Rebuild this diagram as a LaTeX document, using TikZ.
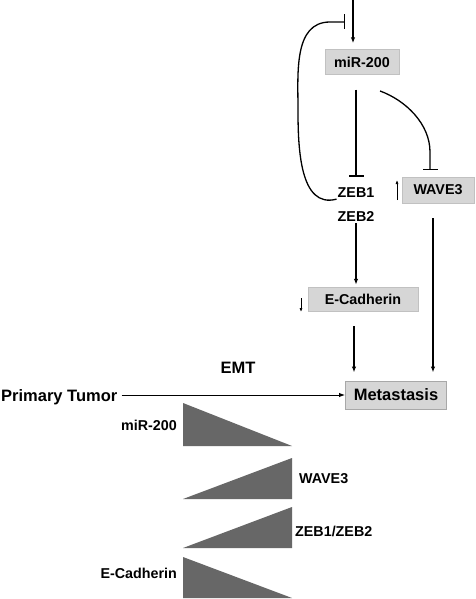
\documentclass[tikz,border=0pt]{standalone}
\usepackage{fontspec}
\setmainfont{Liberation Sans}
\definecolor{boxgray}{HTML}{D6D6D6}
\definecolor{boxline}{HTML}{A8A8A8}
\definecolor{wedge}{HTML}{676767}
\usetikzlibrary{positioning, arrows.meta, calc}

\begin{document}
\begin{tikzpicture}[x=1pt, y=-1pt,
    every node/.style={font=\fontsize{14.3}{16}\selectfont\bfseries, inner sep=1pt},
    genebox/.style={fill=boxgray, draw=boxgray!90!black, inner sep=0pt},
    bigfont/.style={font=\fontsize{16.5}{19}\selectfont\bfseries},
    act/.style={-{Latex[length=6pt, width=4.5pt]}, line width=1.3pt},
    inh/.style={-{Bar[width=15pt, line width=1.5pt]}, line width=1.3pt},
    thinup/.style={-{Latex[length=4pt, width=3pt]}, line width=0.7pt}]
  \useasboundingbox (0,0) rectangle (475,599);
  \fill[white] (0,0) rectangle (475,599);
  % boxes and labels
  \node[genebox, minimum width=74pt, minimum height=25pt] (mir) at (362,62) {miR-200};
  \node (zeb1) at (356,193) {ZEB1};
  \node (zeb2) at (356,217) {ZEB2};
  \node[genebox, minimum width=72pt, minimum height=26pt] (wave) at (438,190) {WAVE3};
  \node[genebox, minimum width=110pt, minimum height=24pt] (ecad) at (363,299) {E-Cadherin};
  \node[genebox, draw=boxline, line width=1pt, bigfont, minimum width=101pt, minimum height=28pt] (meta) at (396,395) {Metastasis};
  \node[bigfont] (emt) at (238,368) {EMT};
  \node[bigfont, anchor=west, inner sep=0pt] (tumor) at (1,397) {Primary Tumor};
  \coordinate (topin) at (353,0);
  \coordinate (fbbar) at (345,22);
  \coordinate (mirout) at (380,91);
  \coordinate (wbar) at (430,170);
  \coordinate (waveup) at (397,200);
  \coordinate (ecaddown) at (301,298);
  % connectors
  \draw[act] (topin) -- (topin |- mir.north) [shorten >=6pt];
  \draw[inh] (zeb1.south west) to[out=195, in=-90] (298,110) to[out=90, in=180] (330,22) -- (fbbar);
  \draw[inh, shorten <=15pt, shorten >=10pt] (mir.south -| zeb1.north) -- (zeb1.north);
  \draw[inh] (mirout) to[out=-20, in=90, looseness=0.9] (430,152) -- (wbar);
  \draw[act, shorten >=2pt] (zeb2.south) -- (zeb2.south |- ecad.north);
  \draw[act, shorten <=15pt, shorten >=8pt] (ecad.south -| 354,0) -- (meta.north -| 354,0);
  \draw[act, shorten <=15pt, shorten >=8pt] (wave.south -| 433,0) -- (meta.north -| 433,0);
  \draw[act, line width=1pt, shorten <=4pt] (tumor.east |- meta.west) -- (meta.west);
  \draw[thinup] (waveup) -- ++(0,-20);
  \draw[thinup] (ecaddown) -- ++(0,14);
  % wedges
  \fill[wedge] (183,403) -- (183,446) -- (292,446) -- cycle;
  \fill[wedge] (183,499) -- (292,499) -- (292,458) -- cycle;
  \fill[wedge] (183,548) -- (292,548) -- (292,507) -- cycle;
  \fill[wedge] (183,557) -- (183,598) -- (292,598) -- cycle;
  \node[anchor=east] (lmir) at (178,425) {miR-200};
  \node[anchor=west] (lwave) at (298,479) {WAVE3};
  \node[anchor=west] (lzeb) at (294,531) {ZEB1/ZEB2};
  \node[anchor=east] (lecad) at (178,573) {E-Cadherin};
\end{tikzpicture}
\end{document}
